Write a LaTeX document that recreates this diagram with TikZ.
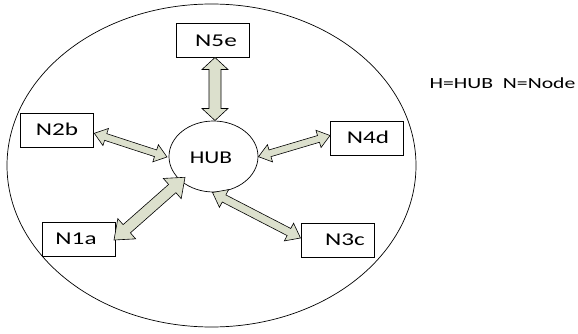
\documentclass[tikz,border=0pt]{standalone}
\usepackage{fontspec}
\setmainfont{Carlito}
\usetikzlibrary{shapes.geometric,calc}
\definecolor{arrfill}{RGB}{220,224,205}
\newcommand\blockarr[5]{%
  \coordinate (p1) at ($(#1)!#5!(#2)$);
  \coordinate (p2) at ($(#2)!#5!(#1)$);
  \draw[arrstyle] (#1) -- ($(p1)!#4!90:(#2)$) -- ($(p1)!#3!90:(#2)$)
    -- ($(p2)!#3!-90:(#1)$) -- ($(p2)!#4!-90:(#1)$) -- (#2)
    -- ($(p2)!#4!90:(#1)$) -- ($(p2)!#3!90:(#1)$)
    -- ($(p1)!#3!-90:(#2)$) -- ($(p1)!#4!-90:(#2)$) -- cycle;
}
\begin{document}
\begin{tikzpicture}[x=1pt,y=-1pt,
  box/.style={draw=black,line width=0.7pt,rectangle,minimum width=73pt,minimum height=34pt,inner sep=0pt},
  lbl/.style={inner sep=0pt,font=\fontsize{18}{20}\selectfont},
  arrstyle/.style={draw=black,line width=0.6pt,fill=arrfill,line join=miter},
  ring/.style={draw=black,line width=0.7pt,ellipse,inner sep=0pt}]
\useasboundingbox (0,0) rectangle (578,334);
\node[ring,minimum width=409pt,minimum height=323pt] (outer) at (211.5,165.5) {};
\node[ring,minimum width=89pt,minimum height=71pt] (hub) at (213.5,156.5) {};
\node[lbl] (hubt) at (211,158) {\scalebox{1.3}[1]{HUB}};
\node[box] (n5) at (212.75,40.5) {};
\node[box] (n2) at (56.5,130.5) {};
\node[box] (n4) at (366.5,138) {};
\node[box] (n1) at (78.5,239) {};
\node[box] (n3) at (338,240.5) {};
\node[lbl] (t5) at (216,40.5) {\scalebox{1.4}[1]{N5e}};
\node[lbl] (t2) at (57,129) {\scalebox{1.4}[1]{N2b}};
\node[lbl] (t4) at (368,137) {\scalebox{1.4}[1]{N4d}};
\node[lbl] (t1) at (76,239) {\scalebox{1.4}[1]{N1a}};
\node[lbl] (t3) at (345,240) {\scalebox{1.4}[1]{N3c}};
\node[inner sep=0pt,font=\fontsize{15.5}{17}\selectfont] (legend) at (502.5,83) {\scalebox{1.4}[1]{H=HUB\ \ N=Node}};
\coordinate (a5s) at (215,57.5);  \coordinate (a5e) at (215,120.5);
\coordinate (a2s) at (94.3,133.3); \coordinate (a2e) at (167,157);
\coordinate (a4s) at (258.5,156.7); \coordinate (a4e) at (330,135.5);
\coordinate (a3s) at (212.5,192.5); \coordinate (a3e) at (300.5,238);
\coordinate (a1s) at (114,240);   \coordinate (a1e) at (185,177.3);
\blockarr{a5s}{a5e}{6pt}{13pt}{12pt}
\blockarr{a2s}{a2e}{3.5pt}{9pt}{12pt}
\blockarr{a4s}{a4e}{3.5pt}{9pt}{12pt}
\blockarr{a3s}{a3e}{4pt}{10pt}{13pt}
\blockarr{a1s}{a1e}{5.5pt}{13.5pt}{17pt}
\end{tikzpicture}
\end{document}
